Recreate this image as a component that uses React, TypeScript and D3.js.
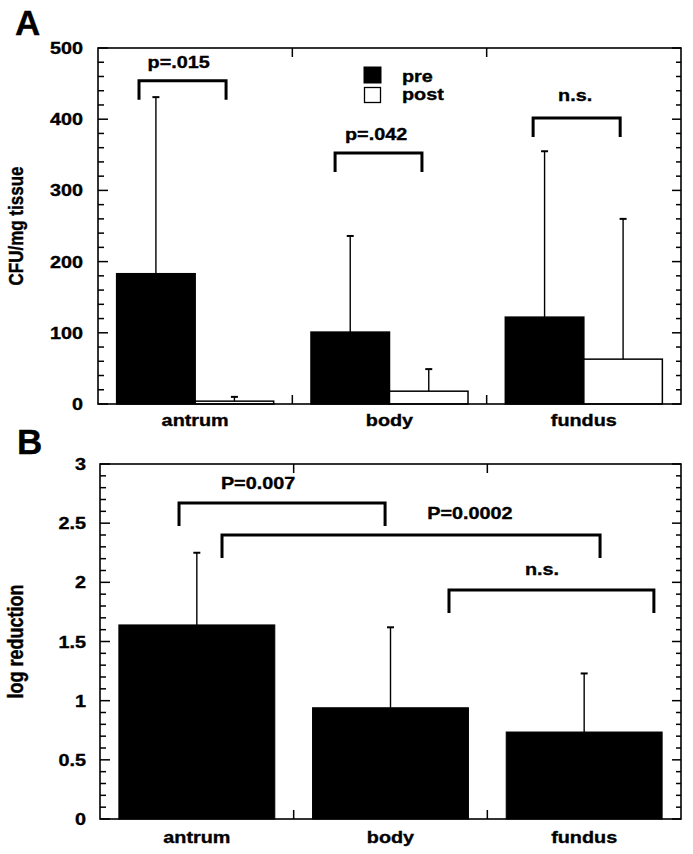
import React from "react";
import * as d3 from "d3";

const categories = ["antrum", "body", "fundus"];
const seriesA = ["pre", "post"];
const preMean = [183, 101, 122];
const preSD = [248, 135, 233];
const postMean = [4, 18, 63];
const postSD = [6, 31, 197];
const ticksA = [0, 100, 200, 300, 400, 500];

const logRed = [1.64, 0.94, 0.735];
const logRedSD = [0.61, 0.68, 0.495];
const ticksB = [0, 0.5, 1, 1.5, 2, 2.5, 3];

// brackets: x positions in category units, y in data units
const bracketsA = [
  { label: "p=.015", x0: 0.211, x1: 0.659, y: 454, tx: 0.415, ty: 472 },
  { label: "p=.042", x0: 1.22, x1: 1.667, y: 352.5, tx: 1.431, ty: 371 },
  { label: "n.s.", x0: 2.239, x1: 2.687, y: 401.7, tx: 2.455, ty: 425.5 },
];
const bracketsB = [
  { label: "P=0.007", x0: 0.408, x1: 1.472, y: 2.67, tx: 0.816, ty: 2.79 },
  { label: "P=0.0002", x0: 0.63, x1: 2.582, y: 2.4, tx: 1.91, ty: 2.535 },
  { label: "n.s.", x0: 1.802, x1: 2.86, y: 1.935, tx: 2.282, ty: 2.062 },
];

const FONT = "'Liberation Sans', Arial, Helvetica, sans-serif";
const SX = 1.2;
const FS = 16.5;

function T({ x, y, children, anchor = "middle", size = FS, sx = SX, rotate = 0 }: any) {
  const tr = rotate
    ? `translate(${x},${y}) rotate(${rotate}) scale(1,${sx})`
    : `translate(${x},${y}) scale(${sx},1)`;
  return (
    <text
      transform={tr}
      textAnchor={anchor}
      fontFamily={FONT}
      fontWeight="bold"
      fontSize={size}
      fill="#000"
      stroke="#000"
      strokeWidth={0.35}
    >
      {children}
    </text>
  );
}

function Frame({ x0, x1, y0, y1, yScale, majors, minorStep, maxV, bounds, majorLen, minorLen }: any) {
  const minors = d3.range(0, maxV + 1e-9, minorStep);
  const els: any[] = [];
  minors.forEach((v: number, i: number) => {
    const isMajor = majors.some((m: number) => Math.abs(m - v) < 1e-6);
    const y = yScale(v);
    const L = isMajor ? majorLen : minorLen;
    els.push(<line key={"l" + i} x1={x0} x2={x0 + L} y1={y} y2={y} stroke="#000" strokeWidth={1.5} />);
    els.push(<line key={"r" + i} x1={x1} x2={x1 - (isMajor ? majorLen - 1 : minorLen - 1)} y1={y} y2={y} stroke="#000" strokeWidth={1.5} />);
  });
  bounds.forEach((bx: number, i: number) => {
    els.push(<line key={"t" + i} x1={bx} x2={bx} y1={y0} y2={y0 + 9} stroke="#000" strokeWidth={1.5} />);
    els.push(<line key={"b" + i} x1={bx} x2={bx} y1={y1} y2={y1 - 9} stroke="#000" strokeWidth={1.5} />);
  });
  return (
    <g>
      <rect x={x0} y={y0} width={x1 - x0} height={y1 - y0} fill="none" stroke="#000" strokeWidth={1.6} />
      {els}
    </g>
  );
}

function ErrBar({ x, yTop, yBot }: any) {
  return (
    <g>
      <line x1={x} x2={x} y1={yBot} y2={yTop} stroke="#000" strokeWidth={1.4} />
      <line x1={x - 3.5} x2={x + 3.5} y1={yTop} y2={yTop} stroke="#000" strokeWidth={2} />
    </g>
  );
}

function Bracket({ b, xs, ys, leg }: any) {
  const xa = xs(b.x0), xb = xs(b.x1), y = ys(b.y);
  return (
    <g>
      <path d={`M${xa},${y + leg}V${y}H${xb}V${y + leg}`} fill="none" stroke="#000" strokeWidth={3} />
      <T x={xs(b.tx)} y={ys(b.ty)}>{b.label}</T>
    </g>
  );
}

export default function App() {
  // Panel A
  const AX0 = 98, AX1 = 681, AY0 = 48, AY1 = 404;
  const xA = d3.scaleBand().domain(categories).range([AX0, AX1]).paddingInner(0).paddingOuter(0);
  const xSub = d3.scaleBand().domain(seriesA).range([0, xA.bandwidth()]).paddingInner(0).paddingOuter(0.2375);
  const yA = d3.scaleLinear().domain([0, 500]).range([AY1, AY0]);
  const xIdxA = d3.scaleLinear().domain([0, 3]).range([AX0, AX1]);

  // Panel B
  const BX0 = 100, BX1 = 681, BY0 = 464, BY1 = 819;
  const xB = d3.scaleBand().domain(categories).range([BX0, BX1]).paddingInner(0.195).paddingOuter(0.0975);
  const yB = d3.scaleLinear().domain([0, 3]).range([BY1, BY0]);
  const xIdxB = d3.scaleLinear().domain([0, 3]).range([BX0, BX1]);

  const means = [preMean, postMean];
  const sds = [preSD, postSD];

  return (
    <svg width={693} height={854} style={{ position: "absolute", left: 0, top: 0, background: "#fff" }}>
      <rect x={0} y={0} width={693} height={854} fill="#fff" />
      {/* Panel A */}
      <T x={15} y={35} anchor="start" size={35} sx={1}>A</T>
      {categories.map((c, i) =>
        seriesA.map((s, j) => {
          const x = (xA(c) as number) + (xSub(s) as number);
          const w = xSub.bandwidth();
          const v = means[j][i];
          return (
            <rect key={c + s} x={x} y={yA(v)} width={w} height={yA(0) - yA(v)}
              fill={j === 0 ? "#000" : "#fff"} stroke="#000" strokeWidth={1.5} />
          );
        })
      )}
      {categories.map((c, i) =>
        seriesA.map((s, j) => {
          const x = (xA(c) as number) + (xSub(s) as number) + xSub.bandwidth() / 2;
          const v = means[j][i];
          return <ErrBar key={"e" + c + s} x={x} yBot={yA(v)} yTop={yA(v + sds[j][i])} />;
        })
      )}
      <Frame x0={AX0} x1={AX1} y0={AY0} y1={AY1} yScale={yA} majors={ticksA} minorStep={20} maxV={500}
        bounds={[xA("body"), xA("fundus")]} majorLen={10} minorLen={6} />
      {ticksA.map((t) => (
        <T key={"ta" + t} x={83} y={yA(t) + 6} anchor="end">{String(t)}</T>
      ))}
      {categories.map((c) => (
        <T key={"ca" + c} x={(xA(c) as number) + xA.bandwidth() / 2} y={426}>{c}</T>
      ))}
      <T x={23} y={(AY0 + AY1) / 2} rotate={-90} size={17}>CFU/mg tissue</T>
      {bracketsA.map((b) => <Bracket key={b.label} b={b} xs={xIdxA} ys={yA} leg={19} />)}
      {/* legend */}
      <rect x={364} y={67} width={17} height={16} fill="#000" stroke="#000" strokeWidth={1} />
      <rect x={364.5} y={87.5} width={16} height={15} fill="#fff" stroke="#000" strokeWidth={1.3} />
      <T x={402} y={82} anchor="start">{seriesA[0]}</T>
      <T x={402} y={100} anchor="start">{seriesA[1]}</T>

      {/* Panel B */}
      <T x={17} y={454} anchor="start" size={35} sx={1}>B</T>
      {categories.map((c, i) => (
        <rect key={"bb" + c} x={xB(c)} y={yB(logRed[i])} width={xB.bandwidth()} height={yB(0) - yB(logRed[i])}
          fill="#000" stroke="#000" strokeWidth={1} />
      ))}
      {categories.map((c, i) => (
        <ErrBar key={"eb" + c} x={(xB(c) as number) + xB.bandwidth() / 2} yBot={yB(logRed[i])} yTop={yB(logRed[i] + logRedSD[i])} />
      ))}
      <Frame x0={BX0} x1={BX1} y0={BY0} y1={BY1} yScale={yB} majors={ticksB} minorStep={0.1} maxV={3}
        bounds={[xIdxB(1), xIdxB(2)]} majorLen={10} minorLen={6} />
      {ticksB.map((t) => (
        <T key={"tb" + t} x={86} y={yB(t) + 6} anchor="end">{String(t)}</T>
      ))}
      {categories.map((c) => (
        <T key={"cb" + c} x={xIdxB(categories.indexOf(c) + 0.5)} y={843}>{c}</T>
      ))}
      <T x={23} y={(BY0 + BY1) / 2} rotate={-90} size={18}>log reduction</T>
      {bracketsB.map((b) => <Bracket key={b.label} b={b} xs={xIdxB} ys={yB} leg={23} />)}
    </svg>
  );
}
